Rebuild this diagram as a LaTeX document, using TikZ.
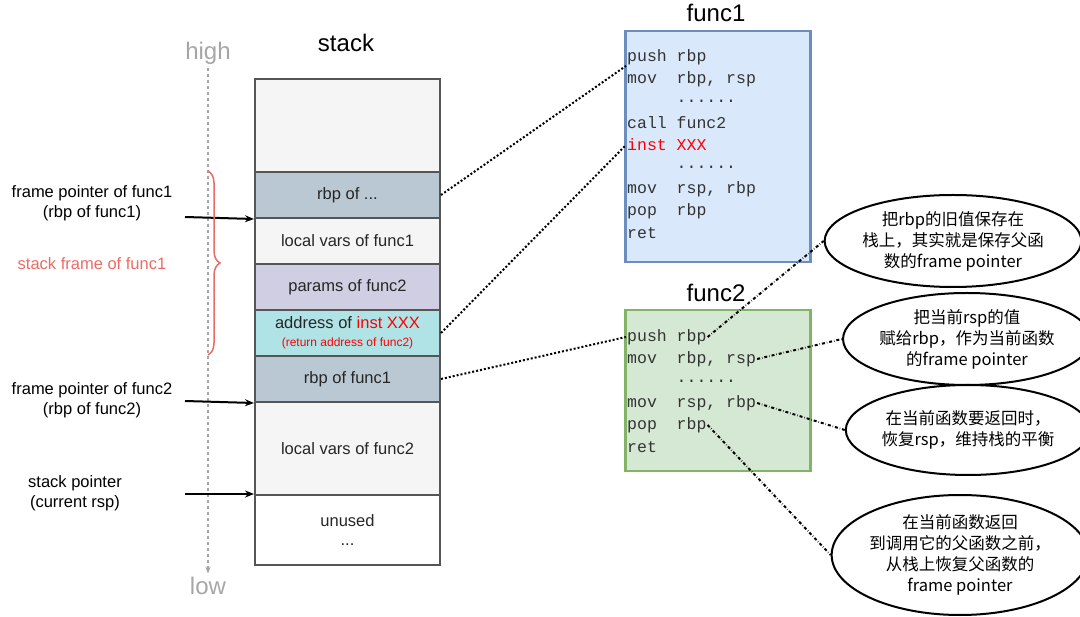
\documentclass[tikz,border=0pt]{standalone}
\usepackage{fontspec}
\setmainfont{Liberation Sans}
\setmonofont{Liberation Mono}
\newfontfamily\cjk{Noto Sans CJK SC}
\usetikzlibrary{decorations.pathreplacing,arrows.meta,shapes.geometric}
\definecolor{sgray}{HTML}{F5F5F5}
\definecolor{sblue}{HTML}{BAC8D3}
\definecolor{spurp}{HTML}{D0CEE2}
\definecolor{scyan}{HTML}{B0E3E6}
\definecolor{f1fill}{HTML}{DAE8FC}
\definecolor{f1line}{HTML}{6C8EBF}
\definecolor{f2fill}{HTML}{D5E8D4}
\definecolor{f2line}{HTML}{82B366}
\definecolor{salmon}{HTML}{EA6B66}
\definecolor{edge}{HTML}{555555}
\begin{document}
\begin{tikzpicture}[x=1pt,y=-1pt,
  cell/.style={draw=edge,line width=2pt,minimum width=185pt,inner sep=0pt,font=\fontsize{16.5}{19}\selectfont,text=black!85},
  code/.style={anchor=west,inner sep=1pt,font=\ttfamily\fontsize{16.5}{18}\selectfont,text=black!80},
  lab/.style={align=center,font=\fontsize{16.5}{20}\selectfont},
  ptr/.style={-{Stealth[length=9pt,width=7pt]},line width=2pt},
  dotc/.style={dotted,line width=2pt},
  dd/.style={dash dot,line width=2pt},
  ell/.style={draw,line width=2pt,ellipse,inner sep=0pt,align=center,font=\cjk\fontsize{16.5}{21}\selectfont},
  title/.style={font=\fontsize{24}{26}\selectfont}]
\useasboundingbox (0,0) rectangle (1080,617);
% stack
\node[title] (st) at (346,43) {stack};
\node[cell,fill=sgray,minimum height=93pt,anchor=north west] (s0) at (254,78) {};
\node[cell,fill=sblue,minimum height=46pt,anchor=north west] (s1) at (254,171) {rbp of ...};
\node[cell,fill=sgray,minimum height=46pt,anchor=north west] (s2) at (254,217) {local vars of func1};
\node[cell,fill=spurp,minimum height=46pt,anchor=north west] (s3) at (254,263) {params of func2};
\node[cell,fill=scyan,minimum height=46pt,anchor=north west,align=center] (s4) at (254,309) {address of \textcolor{red}{inst XXX}\\[-1pt]{\fontsize{12}{14}\selectfont\textcolor{red}{(return address of func2)}}};
\node[cell,fill=sblue,minimum height=46pt,anchor=north west] (s5) at (254,355) {rbp of func1};
\node[cell,fill=sgray,minimum height=93pt,anchor=north west] (s6) at (254,401) {local vars of func2};
\node[cell,fill=white,minimum height=70pt,anchor=north west,align=center] (s7) at (254,494) {unused\\...};
% high/low
\node[title,text=black!35] (hi) at (208,53) {high};
\node[title,text=black!35] (lo) at (208,586) {low};
\draw[dashed,black!35,line width=2pt,-{Stealth[length=7pt]}] (hi.south) -- (lo.north);
% left labels
\node[lab] (fp1) at (92,203) {frame pointer of func1\\(rbp of func1)};
\node[lab,text=salmon] (sf1) at (92,264) {stack frame of func1};
\node[lab] (fp2) at (92,400) {frame pointer of func2\\(rbp of func2)};
\node[lab] (sp) at (75,493) {stack pointer\\(current rsp)};
\coordinate (a1) at (185,217); \coordinate (a2) at (185,401); \coordinate (a3) at (185,494);
\draw[ptr] (a1) -- (s1.south west);
\draw[ptr] (a2) -- (s5.south west);
\draw[ptr] (a3) -- (s7.north west);
\draw[salmon,line width=1.5pt,decorate,decoration={brace,amplitude=12pt,mirror}] (208,355) -- (208,171);
% func1
\node[title] (t1) at (716,13) {func1};
\node[draw=f1line,fill=f1fill,line width=2.5pt,minimum width=185pt,minimum height=231pt,anchor=north west] (f1) at (624,30) {};
\node[code] (c11) at (626,57) {push rbp};
\node[code] (c12) at (626,79) {mov\ \ rbp, rsp};
\node[code] (c13) at (626,101) {\ \ \ \ \ ......};
\node[code] (c14) at (626,123) {call func2};
\node[code,text=red] (c15) at (626,145) {inst XXX};
\node[code] (c16) at (626,167) {\ \ \ \ \ ......};
\node[code] (c17) at (626,189) {mov\ \ rsp, rbp};
\node[code] (c18) at (626,211) {pop\ \ rbp};
\node[code] (c19) at (626,233) {ret};
% func2
\node[title] (t2) at (716,293) {func2};
\node[draw=f2line,fill=f2fill,line width=2.5pt,minimum width=185pt,minimum height=161pt,anchor=north west] (f2) at (624,309) {};
\node[code] (c21) at (626,337) {push rbp};
\node[code] (c22) at (626,359) {mov\ \ rbp, rsp};
\node[code] (c23) at (626,381) {\ \ \ \ \ ......};
\node[code] (c24) at (626,403) {mov\ \ rsp, rbp};
\node[code] (c25) at (626,425) {pop\ \ rbp};
\node[code] (c26) at (626,447) {ret};
% dotted links
\draw[dotc] (s1.east) -- (c11.south west);
\draw[dotc] (s4.east) -- (c15.west);
\draw[dotc] (s5.east) -- (c21.west);
% ellipses
\node[ell,minimum width=206pt,minimum height=92pt] (e1) at (953,241) {把rbp的旧值保存在\\栈上，其实就是保存父函\\数的frame pointer};
\node[ell,minimum width=208pt,minimum height=92pt] (e2) at (967,339) {把当前rsp的值\\赋给rbp，作为当前函数\\的frame pointer};
\node[ell,minimum width=212pt,minimum height=90pt] (e3) at (968,430) {在当前函数要返回时，\\恢复rsp，维持栈的平衡};
\node[ell,minimum width=210pt,minimum height=120pt] (e4) at (960,555) {在当前函数返回\\到调用它的父函数之前，\\从栈上恢复父函数的\\frame pointer};
\draw[dd] (c21.east) -- (e1.west);
\draw[dd] (c22.east) -- (e2.west);
\draw[dd] (c24.east) -- (e3.west);
\draw[dd] (c25.east) -- (e4.west);
\end{tikzpicture}
\end{document}
